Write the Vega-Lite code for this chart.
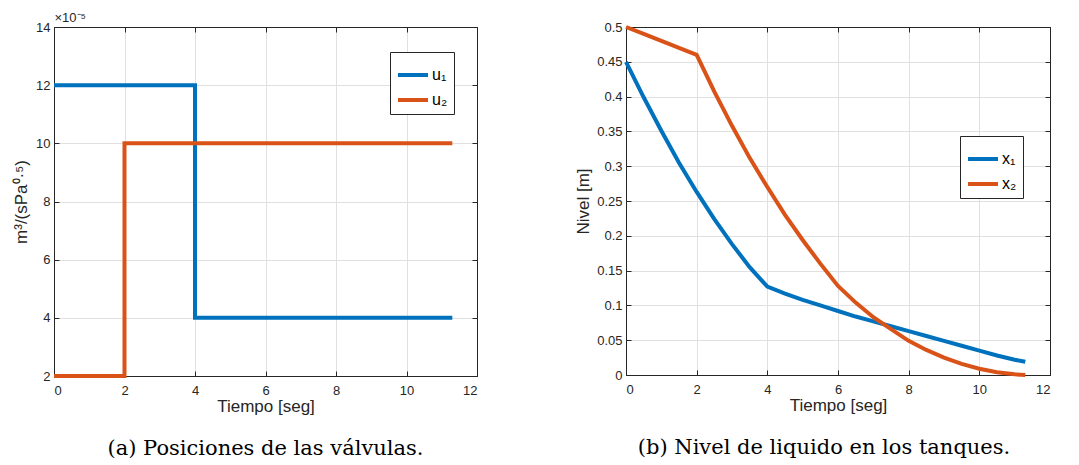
{
  "$schema": "https://vega.github.io/schema/vega-lite/v6.json",
  "bounds": "flush",
  "spacing": 149,
  "padding": {"left": 12, "top": 11, "right": 5, "bottom": 5},
  "background": "white",
  "resolve": {"scale": {"color": "independent"}, "legend": {"color": "independent"}},
  "config": {
    "view": {"stroke": "#262626", "strokeWidth": 1},
    "axis": {
      "labelFont": "Liberation Sans", "labelFontSize": 13, "labelColor": "#262626",
      "titleFont": "Liberation Sans", "titleFontSize": 17, "titleFontWeight": "normal", "titleColor": "#262626",
      "gridColor": "#e0e0e0", "gridWidth": 1, "domainColor": "#262626", "tickColor": "#262626",
      "tickSize": -5
    },
    "axisX": {"labelPadding": 13},
    "axisY": {"labelPadding": 9},
    "legend": {"labelFont": "Liberation Sans"}
  },
  "hconcat": [
    {
      "width": 423, "height": 349,
      "title": {"text": "(a) Posiciones de las válvulas.", "orient": "bottom", "anchor": "middle", "frame": "group", "font": "DejaVu Serif", "fontSize": 21, "fontWeight": "normal", "color": "#000000", "offset": 24},
      "data": {"values": [
        {"t": 0, "v": 12, "s": "u₁"}, {"t": 4, "v": 4, "s": "u₁"}, {"t": 11.3, "v": 4, "s": "u₁"},
        {"t": 0, "v": 2, "s": "u₂"}, {"t": 2, "v": 10, "s": "u₂"}, {"t": 11.3, "v": 10, "s": "u₂"}
      ]},
      "layer": [
        {
          "mark": {"type": "line", "interpolate": "step-after", "strokeWidth": 4},
          "encoding": {
            "x": {"field": "t", "type": "quantitative", "scale": {"domain": [0, 12], "nice": false}, "axis": {"orient": "bottom", "values": [0, 2, 4, 6, 8, 10, 12], "title": "Tiempo [seg]", "titlePadding": 1, "grid": true}},
            "y": {"field": "v", "type": "quantitative", "scale": {"domain": [2, 14], "nice": false, "zero": false}, "axis": {"orient": "left", "values": [2, 4, 6, 8, 10, 12, 14], "title": "m³/(sPa⁰·⁵)", "titlePadding": 5, "grid": true}},
            "color": {"field": "s", "type": "nominal", "scale": {"domain": ["u₁", "u₂"], "range": ["#0072BD", "#D95319"]},
              "legend": {"orient": "none", "legendX": 336, "legendY": 25, "title": null, "strokeColor": "#262626", "fillColor": "white", "padding": 6, "symbolType": "stroke", "symbolStrokeWidth": 4, "symbolSize": 900, "labelFontSize": 16, "labelColor": "#000000", "labelOffset": 2, "rowPadding": 0}}
          }
        },
        {
          "mark": {"type": "line", "opacity": 0},
          "encoding": {
            "x": {"field": "t", "type": "quantitative", "axis": {"orient": "top", "values": [0, 2, 4, 6, 8, 10, 12], "labels": false, "grid": false, "title": "×10⁻⁵", "titleAnchor": "start", "titleAlign": "left", "titleFontSize": 13, "titlePadding": 2}},
            "y": {"field": "v", "type": "quantitative", "axis": {"orient": "right", "values": [2, 4, 6, 8, 10, 12, 14], "labels": false, "grid": false, "title": null}},
            "detail": {"field": "s"}
          }
        }
      ],
      "resolve": {"axis": {"x": "independent", "y": "independent"}}
    },
    {
      "width": 424, "height": 348,
      "title": {"text": "(b) Nivel de liquido en los tanques.", "orient": "bottom", "anchor": "middle", "frame": "group", "font": "DejaVu Serif", "fontSize": 21, "fontWeight": "normal", "color": "#000000", "offset": 24, "dx": -14},
      "data": {"values": [
        {"t": 0, "v": 0.45, "s": "x₁"}, {"t": 0.5, "v": 0.399, "s": "x₁"}, {"t": 1, "v": 0.351, "s": "x₁"}, {"t": 1.5, "v": 0.305, "s": "x₁"},
        {"t": 2, "v": 0.263, "s": "x₁"}, {"t": 2.5, "v": 0.224, "s": "x₁"}, {"t": 3, "v": 0.188, "s": "x₁"}, {"t": 3.5, "v": 0.155, "s": "x₁"},
        {"t": 4, "v": 0.127, "s": "x₁"}, {"t": 4.5, "v": 0.117, "s": "x₁"}, {"t": 5, "v": 0.108, "s": "x₁"}, {"t": 5.5, "v": 0.1, "s": "x₁"},
        {"t": 6, "v": 0.092, "s": "x₁"}, {"t": 6.5, "v": 0.084, "s": "x₁"}, {"t": 7, "v": 0.077, "s": "x₁"}, {"t": 7.5, "v": 0.07, "s": "x₁"},
        {"t": 8, "v": 0.063, "s": "x₁"}, {"t": 8.5, "v": 0.056, "s": "x₁"}, {"t": 9, "v": 0.049, "s": "x₁"}, {"t": 9.5, "v": 0.042, "s": "x₁"},
        {"t": 10, "v": 0.035, "s": "x₁"}, {"t": 10.5, "v": 0.028, "s": "x₁"}, {"t": 11, "v": 0.022, "s": "x₁"}, {"t": 11.3, "v": 0.019, "s": "x₁"},
        {"t": 0, "v": 0.5, "s": "x₂"}, {"t": 0.5, "v": 0.49, "s": "x₂"}, {"t": 1, "v": 0.48, "s": "x₂"}, {"t": 1.5, "v": 0.47, "s": "x₂"},
        {"t": 2, "v": 0.46, "s": "x₂"}, {"t": 2.5, "v": 0.407, "s": "x₂"}, {"t": 3, "v": 0.358, "s": "x₂"}, {"t": 3.5, "v": 0.312, "s": "x₂"},
        {"t": 4, "v": 0.27, "s": "x₂"}, {"t": 4.5, "v": 0.23, "s": "x₂"}, {"t": 5, "v": 0.194, "s": "x₂"}, {"t": 5.5, "v": 0.16, "s": "x₂"},
        {"t": 6, "v": 0.128, "s": "x₂"}, {"t": 6.5, "v": 0.104, "s": "x₂"}, {"t": 7, "v": 0.083, "s": "x₂"}, {"t": 7.5, "v": 0.066, "s": "x₂"},
        {"t": 8, "v": 0.049, "s": "x₂"}, {"t": 8.5, "v": 0.036, "s": "x₂"}, {"t": 9, "v": 0.025, "s": "x₂"}, {"t": 9.5, "v": 0.016, "s": "x₂"},
        {"t": 10, "v": 0.009, "s": "x₂"}, {"t": 10.5, "v": 0.004, "s": "x₂"}, {"t": 11, "v": 0.001, "s": "x₂"}, {"t": 11.3, "v": 0, "s": "x₂"}
      ]},
      "layer": [
        {
          "mark": {"type": "line", "strokeWidth": 4},
          "encoding": {
            "x": {"field": "t", "type": "quantitative", "scale": {"domain": [0, 12], "nice": false}, "axis": {"orient": "bottom", "values": [0, 2, 4, 6, 8, 10, 12], "title": "Tiempo [seg]", "titlePadding": 1, "grid": true}},
            "y": {"field": "v", "type": "quantitative", "scale": {"domain": [0, 0.5], "nice": false}, "axis": {"orient": "left", "values": [0, 0.05, 0.1, 0.15, 0.2, 0.25, 0.3, 0.35, 0.4, 0.45, 0.5], "format": "~g", "title": "Nivel [m]", "titlePadding": 4, "grid": true}},
            "color": {"field": "s", "type": "nominal", "scale": {"domain": ["x₁", "x₂"], "range": ["#0072BD", "#D95319"]},
              "legend": {"orient": "none", "legendX": 334, "legendY": 109, "title": null, "strokeColor": "#262626", "fillColor": "white", "padding": 6, "symbolType": "stroke", "symbolStrokeWidth": 4, "symbolSize": 900, "labelFontSize": 16, "labelColor": "#000000", "labelOffset": 2, "rowPadding": 0}}
          }
        },
        {
          "mark": {"type": "line", "opacity": 0},
          "encoding": {
            "x": {"field": "t", "type": "quantitative", "axis": {"orient": "top", "values": [0, 2, 4, 6, 8, 10, 12], "labels": false, "grid": false, "title": null}},
            "y": {"field": "v", "type": "quantitative", "axis": {"orient": "right", "values": [0, 0.05, 0.1, 0.15, 0.2, 0.25, 0.3, 0.35, 0.4, 0.45, 0.5], "labels": false, "grid": false, "title": null}},
            "detail": {"field": "s"}
          }
        }
      ],
      "resolve": {"axis": {"x": "independent", "y": "independent"}}
    }
  ]
}
